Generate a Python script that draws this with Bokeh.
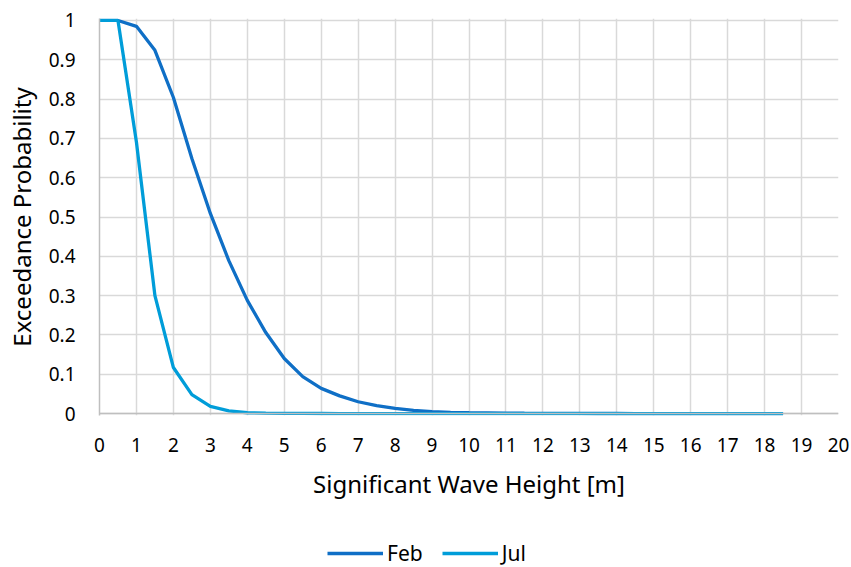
from bokeh.plotting import figure
from bokeh.layouts import column
from bokeh.models import (Range1d, FixedTicker, Legend, LegendItem, Span)
from bokeh.embed import file_html
from bokeh.resources import INLINE

# Significant wave height bins [m]
hs = [0, 0.5, 1, 1.5, 2, 2.5, 3, 3.5, 4, 4.5, 5, 5.5, 6, 6.5, 7, 7.5, 8, 8.5, 9,
      9.5, 10, 10.5, 11, 11.5, 12, 12.5, 13, 13.5, 14, 14.5, 15, 15.5, 16, 16.5,
      17, 17.5, 18, 18.5]

# Exceedance probability per month
feb = [1.0, 1.0, 0.985, 0.924, 0.804, 0.649, 0.509, 0.389, 0.288, 0.206, 0.140,
       0.094, 0.064, 0.045, 0.030, 0.020, 0.013, 0.008, 0.005, 0.003, 0.002,
       0.0015, 0.001, 0.0007, 0.0005, 0.0003, 0.0002, 0.0001, 0.0001, 0.0,
       0.0, 0.0, 0.0, 0.0, 0.0, 0.0, 0.0, 0.0]
jul = [1.0, 1.0, 0.69, 0.30, 0.117, 0.048, 0.018, 0.007, 0.002, 0.001, 0.0005,
       0.0002, 0.0001, 0.0, 0.0, 0.0, 0.0, 0.0, 0.0, 0.0, 0.0, 0.0, 0.0, 0.0,
       0.0, 0.0, 0.0, 0.0, 0.0, 0.0, 0.0, 0.0, 0.0, 0.0, 0.0, 0.0, 0.0, 0.0]

months = ["Feb", "Jul"]

x_ticks = list(range(0, 21))
y_ticks = [0, 0.1, 0.2, 0.3, 0.4, 0.5, 0.6, 0.7, 0.8, 0.9, 1]
y_tick_labels = ["0", "0.1", "0.2", "0.3", "0.4", "0.5", "0.6", "0.7", "0.8", "0.9", "1"]

FONT = "Noto Sans"
COLORS = ["#0F6FC6", "#009DD9"]
GRID = "#D9D9D9"
AXIS = "#BFBFBF"
LINE_W = 3.3

# ---- main chart ----
p = figure(width=851, height=510, output_backend="svg", toolbar_location=None,
           x_range=Range1d(0, 20), y_range=Range1d(-0.005, 1.005),
           min_border_left=99, min_border_right=13, min_border_top=18,
           min_border_bottom=95)
p.outline_line_color = None
p.background_fill_color = "white"
p.border_fill_color = "white"

p.xaxis.ticker = FixedTicker(ticks=x_ticks)
p.yaxis.ticker = FixedTicker(ticks=y_ticks)
p.yaxis.major_label_overrides = {t: l for t, l in zip(y_ticks, y_tick_labels)}
p.xaxis.major_label_overrides = {t: str(t) for t in x_ticks}
for ax in (p.xaxis, p.yaxis):
    ax.major_tick_line_color = None
    ax.minor_tick_line_color = None
    ax.major_label_text_font = FONT
    ax.major_label_text_font_size = "19px"
    ax.major_label_text_color = "#000000"
    ax.axis_label_text_font = FONT
    ax.axis_label_text_font_size = "24px"
    ax.axis_label_text_font_style = "normal"
    ax.axis_label_text_color = "#000000"
p.xaxis.axis_line_color = None
p.yaxis.axis_line_color = AXIS
p.yaxis.axis_line_width = 1.5
p.xaxis.major_label_standoff = 16
p.yaxis.major_label_standoff = 18
p.xaxis.axis_label = "Significant Wave Height [m]"
p.yaxis.axis_label = "Exceedance Probability"
p.xaxis.axis_label_standoff = 12
p.yaxis.axis_label_standoff = 8

p.xgrid.grid_line_color = GRID
p.ygrid.grid_line_color = GRID
p.xgrid.grid_line_width = 1.5
p.ygrid.grid_line_width = 1.5

# horizontal axis line at zero probability
p.add_layout(Span(location=0, dimension="width", line_color=AXIS, line_width=1.5))

for series, color in zip([feb, jul], COLORS):
    p.line(hs, series, line_color=color, line_width=LINE_W)

# ---- legend strip under the chart ----
# The strip's ranges sit away from the data, so only its legend shows.
leg = figure(width=851, height=57, output_backend="svg", toolbar_location=None,
             x_range=Range1d(100, 101), y_range=Range1d(100, 101),
             min_border_left=0, min_border_right=0, min_border_top=0,
             min_border_bottom=0)
leg.axis.visible = False
leg.grid.visible = False
leg.outline_line_color = None
leg.border_fill_color = "white"
leg.background_fill_color = "white"

items = []
for name, series, color in zip(months, [feb, jul], COLORS):
    r = leg.line(hs, series, line_color=color, line_width=LINE_W)
    items.append(LegendItem(label=name, renderers=[r]))

legend = Legend(items=items, orientation="horizontal", location=(228, 0))
legend.label_text_font = FONT
legend.label_text_font_size = "21px"
legend.label_text_color = "#000000"
legend.glyph_width = 56
legend.glyph_height = 18
legend.spacing = 19
legend.label_standoff = 4
legend.border_line_color = None
legend.background_fill_alpha = 0
legend.margin = 0
legend.padding = 0
leg.add_layout(legend)

layout = column(p, leg, spacing=0)
open("out.html", "w").write(file_html(layout, INLINE))
